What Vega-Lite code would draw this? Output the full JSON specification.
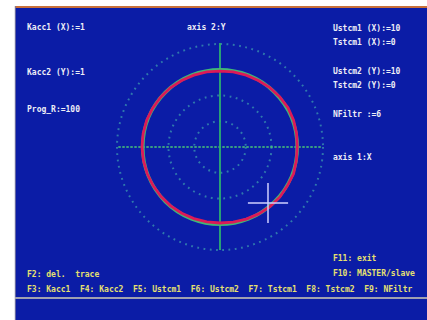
{
  "$schema": "https://vega.github.io/schema/vega-lite/v6.json",
  "width": 412,
  "height": 314,
  "padding": {"left": 15, "top": 6, "right": 0, "bottom": 0},
  "autosize": {"type": "none"},
  "background": "#ffffff",
  "config": {"view": {"fill": "#0b1ca6", "stroke": null}},
  "datasets": {
    "rings": [{"r": 1}, {"r": 2}, {"r": 3}, {"r": 4}],
    "cmd": [{"r": 3}],
    "trace": [
      {"i": 0, "x": 3.0, "y": 0},
      {"i": 1, "x": 2.974, "y": 0.524},
      {"i": 2, "x": 2.857, "y": 1.04},
      {"i": 3, "x": 2.641, "y": 1.525},
      {"i": 4, "x": 2.321, "y": 1.948},
      {"i": 5, "x": 1.935, "y": 2.306},
      {"i": 6, "x": 1.49, "y": 2.581},
      {"i": 7, "x": 1.016, "y": 2.791},
      {"i": 8, "x": 0.514, "y": 2.915},
      {"i": 9, "x": 0, "y": 2.95},
      {"i": 10, "x": -0.514, "y": 2.915},
      {"i": 11, "x": -1.016, "y": 2.791},
      {"i": 12, "x": -1.49, "y": 2.581},
      {"i": 13, "x": -1.928, "y": 2.298},
      {"i": 14, "x": -2.306, "y": 1.935},
      {"i": 15, "x": -2.615, "y": 1.51},
      {"i": 16, "x": -2.847, "y": 1.036},
      {"i": 17, "x": -2.984, "y": 0.526},
      {"i": 18, "x": -3.03, "y": 0},
      {"i": 19, "x": -2.974, "y": -0.524},
      {"i": 20, "x": -2.829, "y": -1.029},
      {"i": 21, "x": -2.598, "y": -1.5},
      {"i": 22, "x": -2.29, "y": -1.922},
      {"i": 23, "x": -1.916, "y": -2.283},
      {"i": 24, "x": -1.485, "y": -2.572},
      {"i": 25, "x": -1.012, "y": -2.782},
      {"i": 26, "x": -0.512, "y": -2.905},
      {"i": 27, "x": 0, "y": -2.95},
      {"i": 28, "x": 0.514, "y": -2.915},
      {"i": 29, "x": 1.019, "y": -2.8},
      {"i": 30, "x": 1.5, "y": -2.598},
      {"i": 31, "x": 1.941, "y": -2.313},
      {"i": 32, "x": 2.321, "y": -1.948},
      {"i": 33, "x": 2.615, "y": -1.51},
      {"i": 34, "x": 2.857, "y": -1.04},
      {"i": 35, "x": 2.964, "y": -0.523},
      {"i": 36, "x": 3.0, "y": 0}
    ],
    "hAxis": [{"x": -3.95, "x2": 3.95, "y": 0}],
    "vAxis": [{"x": 0, "y": -4.0, "y2": 4.04}],
    "cursorH": [{"x": 1.084, "x2": 2.644, "y": -2.175}],
    "cursorV": [{"x": 1.864, "y": -2.955, "y2": -1.395}],
    "topLine": [{"y": 5.44}],
    "leftLine": [{"x": -7.95}],
    "bottomLine": [{"y": -5.864}],
    "texts": [
      {"x": -7.495, "y": 4.621, "label": "Kacc1 (X):=1", "kind": "info"},
      {"x": -7.495, "y": 2.874, "label": "Kacc2 (Y):=1", "kind": "info"},
      {"x": -7.495, "y": 1.437, "label": "Prog_R:=100", "kind": "info"},
      {"x": -1.282, "y": 4.621, "label": "axis 2:Y", "kind": "info"},
      {"x": 4.388, "y": 4.583, "label": "Ustcm1 (X):=10", "kind": "info"},
      {"x": 4.388, "y": 4.039, "label": "Tstcm1 (X):=0", "kind": "info"},
      {"x": 4.388, "y": 2.913, "label": "Ustcm2 (Y):=10", "kind": "info"},
      {"x": 4.388, "y": 2.369, "label": "Tstcm2 (Y):=0", "kind": "info"},
      {"x": 4.388, "y": 1.243, "label": "NFiltr :=6", "kind": "info"},
      {"x": 4.388, "y": -0.427, "label": "axis 1:X", "kind": "info"},
      {"x": 4.388, "y": -4.35, "label": "F11: exit", "kind": "key"},
      {"x": 4.388, "y": -4.932, "label": "F10: MASTER/slave", "kind": "key"},
      {"x": -7.495, "y": -4.971, "label": "F2: del.\u00a0\u00a0trace", "kind": "key"},
      {"x": -7.495, "y": -5.553, "label": "F3: Kacc1\u00a0\u00a0F4: Kacc2\u00a0\u00a0F5: Ustcm1\u00a0\u00a0F6: Ustcm2\u00a0\u00a0F7: Tstcm1\u00a0\u00a0F8: Tstcm2\u00a0\u00a0F9: NFiltr", "kind": "key"}
    ]
  },
  "layer": [
    {
      "data": {"name": "rings"},
      "mark": {"type": "point", "shape": "circle", "filled": false, "stroke": "#3fa0b0", "strokeWidth": 2, "strokeDash": [1.8, 4.5]},
      "encoding": {
        "x": {"datum": 0, "type": "quantitative", "scale": {"domain": [-7.961, 8.039], "nice": false, "zero": false}, "axis": null},
        "y": {"datum": 0, "type": "quantitative", "scale": {"domain": [-6.718, 5.476], "nice": false, "zero": false}, "axis": null},
        "size": {"field": "r", "type": "quantitative", "scale": {"type": "pow", "exponent": 2, "domain": [0, 4], "range": [0, 42436]}, "legend": null}
      }
    },
    {
      "data": {"name": "hAxis"},
      "mark": {"type": "rule", "stroke": "#48c878", "strokeWidth": 1.6, "strokeDash": [2.5, 1.5]},
      "encoding": {
        "x": {"field": "x", "type": "quantitative"},
        "x2": {"field": "x2"},
        "y": {"field": "y", "type": "quantitative"}
      }
    },
    {
      "data": {"name": "vAxis"},
      "mark": {"type": "rule", "stroke": "#2cb070", "strokeWidth": 1.8},
      "encoding": {
        "x": {"field": "x", "type": "quantitative"},
        "y": {"field": "y", "type": "quantitative"},
        "y2": {"field": "y2"}
      }
    },
    {
      "data": {"name": "cmd"},
      "mark": {"type": "point", "shape": "circle", "filled": false, "stroke": "#40b878", "strokeWidth": 3.6, "opacity": 1},
      "encoding": {
        "x": {"datum": 0, "type": "quantitative"},
        "y": {"datum": 0, "type": "quantitative"},
        "size": {"field": "r", "type": "quantitative"}
      }
    },
    {
      "data": {"name": "trace"},
      "mark": {"type": "line", "stroke": "#dc1a58", "strokeWidth": 2.8},
      "encoding": {
        "x": {"field": "x", "type": "quantitative"},
        "y": {"field": "y", "type": "quantitative"},
        "order": {"field": "i", "type": "quantitative"}
      }
    },
    {
      "data": {"name": "cursorH"},
      "mark": {"type": "rule", "stroke": "#d0d0ff", "strokeWidth": 1.5},
      "encoding": {
        "x": {"field": "x", "type": "quantitative"},
        "x2": {"field": "x2"},
        "y": {"field": "y", "type": "quantitative"}
      }
    },
    {
      "data": {"name": "cursorV"},
      "mark": {"type": "rule", "stroke": "#d0d0ff", "strokeWidth": 1.5},
      "encoding": {
        "x": {"field": "x", "type": "quantitative"},
        "y": {"field": "y", "type": "quantitative"},
        "y2": {"field": "y2"}
      }
    },
    {
      "data": {"name": "topLine"},
      "mark": {"type": "rule", "stroke": "#c8703a", "strokeWidth": 2},
      "encoding": {"y": {"field": "y", "type": "quantitative"}}
    },
    {
      "data": {"name": "leftLine"},
      "mark": {"type": "rule", "stroke": "#7a7aa0", "strokeWidth": 1},
      "encoding": {"x": {"field": "x", "type": "quantitative"}}
    },
    {
      "data": {"name": "bottomLine"},
      "mark": {"type": "rule", "stroke": "#a0a0b0", "strokeWidth": 2},
      "encoding": {"y": {"field": "y", "type": "quantitative"}}
    },
    {
      "data": {"name": "texts"},
      "mark": {"type": "text", "align": "left", "baseline": "middle", "font": "DejaVu Sans Mono", "fontSize": 8, "fontWeight": "bold"},
      "encoding": {
        "x": {"field": "x", "type": "quantitative"},
        "y": {"field": "y", "type": "quantitative"},
        "text": {"field": "label"},
        "color": {"field": "kind", "type": "nominal", "scale": {"domain": ["info", "key"], "range": ["#eeeef6", "#e6e070"]}, "legend": null}
      }
    }
  ]
}
